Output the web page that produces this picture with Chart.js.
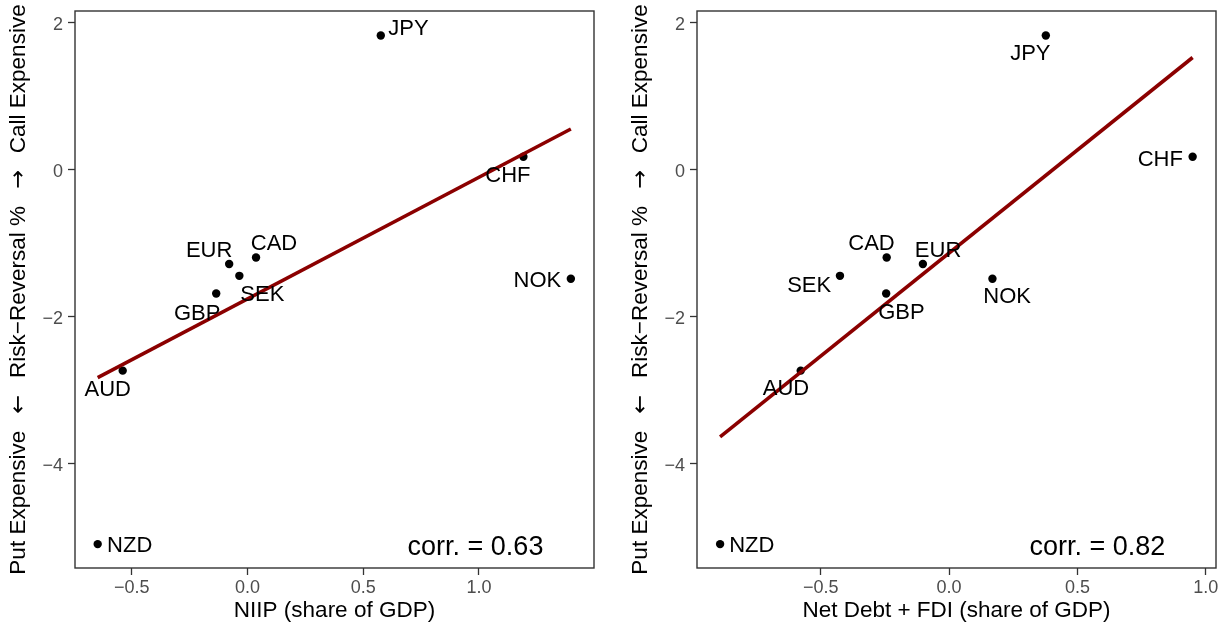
<!DOCTYPE html>
<html>
<head>
<meta charset="utf-8">
<script src="https://cdn.jsdelivr.net/npm/chart.js@4.4.1/dist/chart.umd.min.js"></script>
<style>
  html, body { margin: 0; padding: 0; background: #ffffff; }
  #wrap { position: relative; width: 1231px; height: 632px; overflow: hidden; background: #ffffff; }
  canvas { position: absolute; top: 0; }
  #niipChart { left: 0; }
  #debtChart { left: 622px; }
</style>
</head>
<body>
<div id="wrap">
  <canvas id="niipChart" width="609" height="632"></canvas>
  <canvas id="debtChart" width="609" height="632"></canvas>
</div>
<script>
// ---- data ----
const currencies   = ['JPY', 'CHF', 'NOK', 'EUR', 'CAD', 'SEK', 'GBP', 'AUD', 'NZD'];
const riskReversal = [1.83, 0.18, -1.48, -1.28, -1.19, -1.44, -1.68, -2.73, -5.09];
const niip         = [0.576, 1.192, 1.397, -0.079, 0.037, -0.035, -0.135, -0.539, -0.647];
const netDebtFdi   = [0.377, 0.949, 0.169, -0.102, -0.243, -0.425, -0.245, -0.578, -0.892];

// fitted least-squares lines (end points)
const niipFitX = [-0.647, 1.397];
const niipFitY = [-2.826, 0.558];
const debtFitX = [-0.892, 0.949];
const debtFitY = [-3.63, 1.53];

const corrNiip = '0.63';
const corrDebt = '0.82';

// axis ticks
const yTickValues  = [2, 0, -2, -4];
const yTickLabels  = ['2', '0', '\u22122', '\u22124'];
const xTickValues  = [-0.5, 0, 0.5, 1.0];
const xTickLabels  = ['\u22120.5', '0.0', '0.5', '1.0'];

// ---- styling / layout ----
const FONT = '"Liberation Sans", Arial, Helvetica, sans-serif';
const ARROW_FONT = '"DejaVu Sans", sans-serif';
const INK = '#000000';
const FRAME = '#333333';
const FIT_COLOR = '#8b0000';
const TITLE_SIZE = 22.5;
const ARROW_GAP = 17;   // px of space on each side of an arrow
// y-axis title pieces: [text, isArrow]
const Y_TITLE_PARTS = [
  ['Put Expensive', false], ['\u2190', true], ['Risk\u2212Reversal %', false],
  ['\u2192', true], ['Call Expensive', false]
];

// label offsets (px) of each currency name from its point
const niipLabelOffset = {
  JPY: [27.6, -8], CHF: [-15.5, 17], NOK: [-33.5, 0.7], EUR: [-20, -15], CAD: [18, -15],
  SEK: [23, 17], GBP: [-19, 18.5], AUD: [-15, 17], NZD: [32, 0.5]
};
const debtLabelOffset = {
  JPY: [-15.5, 17], CHF: [-32.4, 1], NOK: [14.7, 16.3], EUR: [15.2, -15], CAD: [-15.2, -15],
  SEK: [-30.8, 8.7], GBP: [15.3, 18], AUD: [-14.7, 16.5], NZD: [31.7, 0.5]
};

function drawYTitle(ctx, cx, cy) {
  const fontFor = arrow => TITLE_SIZE + 'px ' + (arrow ? ARROW_FONT : FONT);
  let total = 0;
  const widths = Y_TITLE_PARTS.map(([t, arrow]) => {
    ctx.font = fontFor(arrow);
    const w = ctx.measureText(t).width + (arrow ? 2 * ARROW_GAP : 0);
    total += w;
    return w;
  });
  ctx.save();
  ctx.translate(cx, cy);
  ctx.rotate(-Math.PI / 2);
  ctx.fillStyle = INK;
  ctx.textAlign = 'left';
  ctx.textBaseline = 'alphabetic';
  let pos = -total / 2;
  Y_TITLE_PARTS.forEach(([t, arrow], i) => {
    ctx.font = fontFor(arrow);
    ctx.fillText(t, pos + (arrow ? ARROW_GAP : 0), 0.358 * TITLE_SIZE);
    pos += widths[i];
  });
  ctx.restore();
}

const panelPlugin = {
  id: 'panelDecor',
  afterDatasetsDraw(chart, args, opts) {
    const {ctx, scales: {x, y}} = chart;
    ctx.save();
    // currency labels
    ctx.fillStyle = INK;
    ctx.font = '22px ' + FONT;
    ctx.textAlign = 'center';
    ctx.textBaseline = 'alphabetic';
    opts.xs.forEach((xv, i) => {
      const name = currencies[i];
      const off = opts.offsets[name];
      const px = x.getPixelForValue(xv) + off[0];
      const py = y.getPixelForValue(riskReversal[i]) + off[1];
      ctx.fillText(name, px, py + 0.358 * 22);
    });
    // correlation note
    ctx.font = '27px ' + FONT;
    const cx = x.getPixelForValue(opts.corrAt[0]);
    const cy = y.getPixelForValue(opts.corrAt[1]);
    ctx.fillText('corr. = ' + opts.corr, cx, cy + 0.358 * 27);
    ctx.restore();
  },
  afterDraw(chart) {
    const {ctx, chartArea: a} = chart;
    ctx.save();
    ctx.strokeStyle = FRAME;
    ctx.lineWidth = 1.4;
    ctx.strokeRect(a.left, a.top, a.right - a.left, a.bottom - a.top);
    ctx.restore();
    drawYTitle(ctx, 17, (a.top + a.bottom) / 2);
  }
};

function makePanel(canvasId, xs, fitX, fitY, xMin, xMax, xTitle, offsets, corr, corrAt) {
  const points = xs.map((v, i) => ({x: v, y: riskReversal[i]}));
  const fit = fitX.map((v, i) => ({x: v, y: fitY[i]}));
  return new Chart(document.getElementById(canvasId), {
    type: 'scatter',
    data: {
      datasets: [
        {
          type: 'line', data: fit, borderColor: FIT_COLOR, borderWidth: 3.6,
          pointRadius: 0, fill: false, order: 0
        },
        {
          type: 'scatter', data: points, backgroundColor: INK, borderWidth: 0,
          pointRadius: 4.2, order: 1
        }
      ]
    },
    options: {
      responsive: false,
      animation: false,
      devicePixelRatio: 1,
      layout: {padding: {left: 0, right: 15, top: 11, bottom: 0}},
      plugins: {
        legend: {display: false},
        tooltip: {enabled: false},
        panelDecor: {xs: xs, offsets: offsets, corr: corr, corrAt: corrAt}
      },
      scales: {
        x: {
          type: 'linear', min: xMin, max: xMax,
          afterBuildTicks: s => { s.ticks = xTickValues.map(v => ({value: v})); },
          afterFit: s => { s.height = 64; s.paddingLeft = 0; s.paddingRight = 0; },
          ticks: {
            callback: (v, i) => xTickLabels[i], color: '#4d4d4d',
            font: {family: FONT, size: 18}, padding: 2, maxRotation: 0, autoSkip: false
          },
          grid: {drawOnChartArea: false, drawTicks: true, tickLength: 7, tickColor: FRAME, tickWidth: 1.3},
          border: {display: false},
          title: {display: true, text: xTitle, color: INK, font: {family: FONT, size: TITLE_SIZE}, padding: {top: 0, bottom: 7.5}}
        },
        y: {
          type: 'linear', min: -5.415, max: 2.163,
          afterBuildTicks: s => { s.ticks = yTickValues.map(v => ({value: v})); },
          afterFit: s => { s.width = 75; s.paddingTop = 0; s.paddingBottom = 0; },
          ticks: {
            callback: (v, i) => yTickLabels[i], color: '#4d4d4d',
            font: {family: FONT, size: 18}, padding: 5, labelOffset: 2, autoSkip: false
          },
          grid: {drawOnChartArea: false, drawTicks: true, tickLength: 7, tickColor: FRAME, tickWidth: 1.3},
          border: {display: false},
          title: {display: false}
        }
      }
    },
    plugins: [panelPlugin]
  });
}

makePanel('niipChart', niip, niipFitX, niipFitY, -0.745, 1.497,
  'NIIP (share of GDP)', niipLabelOffset, corrNiip, [0.985, -5.10]);
makePanel('debtChart', netDebtFdi, debtFitX, debtFitY, -0.982, 1.040,
  'Net Debt + FDI (share of GDP)', debtLabelOffset, corrDebt, [0.578, -5.10]);
</script>
</body>
</html>
